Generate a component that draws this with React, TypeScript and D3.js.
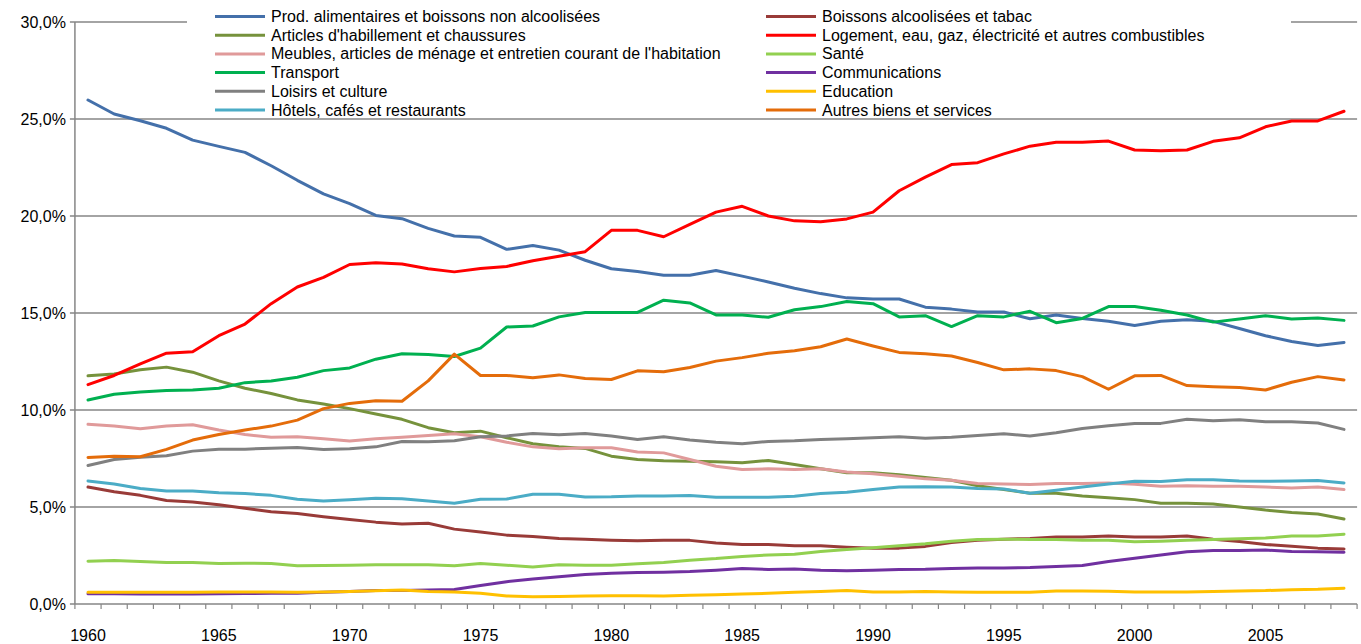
import React from 'react'
import * as d3 from 'd3'

// years on the category axis
const years = d3.range(1960, 2009)

const prodAlim = [25.98, 25.26, 24.91, 24.52, 23.91, 23.59, 23.28, 22.59, 21.84, 21.14, 20.64, 20.03, 19.86, 19.36, 18.97, 18.9, 18.28, 18.48, 18.24, 17.72, 17.28, 17.14, 16.95, 16.95, 17.19, 16.9, 16.6, 16.28, 16.0, 15.78, 15.72, 15.72, 15.3, 15.2, 15.05, 15.05, 14.7, 14.9, 14.72, 14.57, 14.36, 14.57, 14.65, 14.57, 14.2, 13.83, 13.53, 13.33, 13.48]
const boissons = [6.03, 5.79, 5.6, 5.34, 5.26, 5.12, 4.93, 4.76, 4.66, 4.5, 4.36, 4.22, 4.12, 4.16, 3.86, 3.71, 3.55, 3.48, 3.38, 3.34, 3.29, 3.26, 3.28, 3.28, 3.14, 3.07, 3.07, 3.0, 3.0, 2.93, 2.88, 2.88, 2.97, 3.17, 3.28, 3.34, 3.38, 3.45, 3.45, 3.5, 3.45, 3.45, 3.5, 3.34, 3.22, 3.07, 2.98, 2.88, 2.84]
const habillement = [11.76, 11.86, 12.07, 12.21, 11.95, 11.5, 11.12, 10.85, 10.52, 10.31, 10.07, 9.79, 9.52, 9.09, 8.83, 8.91, 8.57, 8.26, 8.1, 8.02, 7.62, 7.45, 7.38, 7.36, 7.33, 7.28, 7.4, 7.19, 6.97, 6.76, 6.76, 6.66, 6.52, 6.38, 6.1, 5.9, 5.71, 5.71, 5.57, 5.48, 5.38, 5.19, 5.19, 5.16, 5.0, 4.84, 4.72, 4.64, 4.38]
const logement = [11.31, 11.78, 12.38, 12.93, 13.0, 13.83, 14.43, 15.48, 16.34, 16.84, 17.5, 17.59, 17.53, 17.28, 17.12, 17.29, 17.4, 17.69, 17.93, 18.16, 19.26, 19.26, 18.93, 19.57, 20.2, 20.5, 20.0, 19.75, 19.7, 19.85, 20.2, 21.3, 22.0, 22.65, 22.75, 23.2, 23.6, 23.8, 23.8, 23.86, 23.4, 23.36, 23.4, 23.85, 24.03, 24.6, 24.9, 24.9, 25.4]
const meubles = [9.26, 9.17, 9.03, 9.17, 9.24, 8.97, 8.74, 8.59, 8.62, 8.52, 8.4, 8.52, 8.6, 8.69, 8.78, 8.62, 8.34, 8.1, 8.0, 8.05, 8.05, 7.84, 7.79, 7.45, 7.1, 6.93, 6.97, 6.93, 6.97, 6.81, 6.72, 6.59, 6.45, 6.38, 6.21, 6.19, 6.16, 6.21, 6.21, 6.24, 6.17, 6.07, 6.1, 6.07, 6.07, 6.03, 5.98, 6.03, 5.9]
const sante = [2.21, 2.24, 2.19, 2.14, 2.14, 2.09, 2.1, 2.09, 1.97, 1.98, 2.0, 2.02, 2.02, 2.02, 1.97, 2.09, 2.0, 1.91, 2.02, 2.0, 2.0, 2.07, 2.14, 2.26, 2.34, 2.45, 2.53, 2.57, 2.71, 2.81, 2.9, 3.0, 3.1, 3.24, 3.33, 3.34, 3.33, 3.33, 3.29, 3.29, 3.21, 3.24, 3.29, 3.33, 3.36, 3.4, 3.5, 3.5, 3.6]
const transport = [10.52, 10.81, 10.93, 11.0, 11.03, 11.12, 11.41, 11.5, 11.69, 12.03, 12.17, 12.62, 12.9, 12.86, 12.76, 13.19, 14.28, 14.33, 14.8, 15.03, 15.02, 15.03, 15.66, 15.52, 14.9, 14.9, 14.78, 15.17, 15.33, 15.59, 15.48, 14.8, 14.86, 14.3, 14.86, 14.8, 15.09, 14.5, 14.72, 15.33, 15.34, 15.14, 14.9, 14.53, 14.69, 14.86, 14.69, 14.74, 14.62]
const communications = [0.53, 0.53, 0.52, 0.51, 0.51, 0.53, 0.54, 0.55, 0.55, 0.6, 0.65, 0.7, 0.7, 0.72, 0.75, 0.95, 1.15, 1.29, 1.41, 1.52, 1.59, 1.62, 1.64, 1.67, 1.74, 1.83, 1.78, 1.81, 1.74, 1.71, 1.74, 1.78, 1.79, 1.83, 1.86, 1.86, 1.88, 1.93, 1.98, 2.19, 2.36, 2.52, 2.69, 2.76, 2.76, 2.78, 2.71, 2.69, 2.67]
const loisirs = [7.14, 7.45, 7.57, 7.64, 7.88, 7.98, 7.98, 8.03, 8.07, 7.97, 8.0, 8.1, 8.38, 8.36, 8.41, 8.62, 8.66, 8.79, 8.72, 8.79, 8.66, 8.48, 8.62, 8.45, 8.34, 8.26, 8.38, 8.41, 8.48, 8.52, 8.57, 8.62, 8.55, 8.59, 8.69, 8.78, 8.66, 8.83, 9.05, 9.19, 9.31, 9.31, 9.52, 9.45, 9.5, 9.4, 9.4, 9.33, 9.0]
const education = [0.6, 0.6, 0.6, 0.6, 0.6, 0.62, 0.62, 0.62, 0.6, 0.62, 0.65, 0.68, 0.72, 0.65, 0.62, 0.55, 0.41, 0.38, 0.39, 0.41, 0.43, 0.43, 0.41, 0.45, 0.48, 0.52, 0.55, 0.6, 0.65, 0.69, 0.62, 0.62, 0.64, 0.62, 0.6, 0.6, 0.6, 0.67, 0.67, 0.66, 0.62, 0.62, 0.62, 0.64, 0.67, 0.69, 0.74, 0.76, 0.81]
const hotels = [6.34, 6.19, 5.95, 5.83, 5.83, 5.74, 5.69, 5.6, 5.4, 5.31, 5.38, 5.45, 5.43, 5.31, 5.19, 5.4, 5.41, 5.66, 5.66, 5.52, 5.53, 5.57, 5.57, 5.59, 5.5, 5.5, 5.5, 5.55, 5.69, 5.76, 5.9, 6.03, 6.05, 6.03, 5.95, 5.93, 5.71, 5.86, 6.03, 6.19, 6.33, 6.31, 6.41, 6.41, 6.34, 6.33, 6.34, 6.36, 6.24]
const autres = [7.55, 7.62, 7.59, 7.97, 8.45, 8.74, 8.97, 9.17, 9.48, 10.07, 10.34, 10.48, 10.45, 11.5, 12.88, 11.78, 11.78, 11.66, 11.81, 11.62, 11.57, 12.02, 11.97, 12.19, 12.52, 12.7, 12.93, 13.05, 13.26, 13.66, 13.3, 12.97, 12.9, 12.78, 12.45, 12.07, 12.12, 12.03, 11.72, 11.07, 11.76, 11.78, 11.26, 11.2, 11.16, 11.03, 11.43, 11.72, 11.55]

const series = [
  {name: 'Prod. alimentaires et boissons non alcoolisées', color: '#4470AA', values: prodAlim},
  {name: 'Boissons alcoolisées et tabac', color: '#993B38', values: boissons},
  {name: "Articles d'habillement et chaussures", color: '#76923C', values: habillement},
  {name: 'Logement, eau, gaz, électricité et autres combustibles', color: '#FF0000', values: logement},
  {name: "Meubles, articles de ménage et entretien courant de l'habitation", color: '#E09A9A', values: meubles},
  {name: 'Santé', color: '#92D050', values: sante},
  {name: 'Transport', color: '#00B050', values: transport},
  {name: 'Communications', color: '#7030A0', values: communications},
  {name: 'Loisirs et culture', color: '#808080', values: loisirs},
  {name: 'Education', color: '#FFC000', values: education},
  {name: 'Hôtels, cafés et restaurants', color: '#4BACC6', values: hotels},
  {name: 'Autres biens et services', color: '#E46C0A', values: autres},
]

const yTicks = [0, 5, 10, 15, 20, 25, 30]
const xLabels = [1960, 1965, 1970, 1975, 1980, 1985, 1990, 1995, 2000, 2005]

const W = 1361, H = 644
const font = '"Liberation Sans", Arial, sans-serif'

export default function App() {
  const x = d3.scaleLinear().domain([1960, 2008]).range([88, 1344])
  const y = d3.scaleLinear().domain([0, 30]).range([604, 22])
  const left = x(1959.5), right = x(2008.5)

  const line = d3.line<number>()
    .x((d, i) => x(years[i]))
    .y(d => y(d))

  const fmt = (v: number) => v.toFixed(1).replace('.', ',') + '%'

  return (
    <svg width={W} height={H} style={{position: 'absolute', left: 0, top: 0, background: '#fff'}}
      fontFamily={font}>
      {yTicks.map(t => (
        <g key={t}>
          <line x1={left - 5} x2={right} y1={y(t)} y2={y(t)} stroke="#868686" strokeWidth={1.5} />
          <text x={left - 9} y={y(t) + 5.5} textAnchor="end" fontSize={16} fill="#000">{fmt(t)}</text>
        </g>
      ))}
      <line x1={left} x2={left} y1={y(30)} y2={y(0)} stroke="#868686" strokeWidth={1.5} />
      {d3.range(1959.5, 2009.5, 1).map(t => (
        <line key={t} x1={x(t)} x2={x(t)} y1={y(0)} y2={y(0) + 5} stroke="#868686" strokeWidth={1.2} />
      ))}
      {xLabels.map(t => (
        <text key={t} x={x(t)} y={641} textAnchor="middle" fontSize={16} fill="#000">{t}</text>
      ))}

      {/* legend box covers the gridlines behind it */}
      <rect x={187} y={6} width={1104} height={112} fill="#fff" />
      {series.map((s, i) => {
        const col = i % 2, row = Math.floor(i / 2)
        const lx = col === 0 ? 215 : 766
        const ly = 16.5 + row * 18.7
        return (
          <g key={s.name}>
            <line x1={lx} x2={lx + 50} y1={ly} y2={ly} stroke={s.color} strokeWidth={3} />
            <text x={lx + 56} y={ly + 5.5} fontSize={16} fill="#000">{s.name}</text>
          </g>
        )
      })}

      {series.map(s => (
        <path key={s.name} d={line(s.values) || ''} fill="none" stroke={s.color}
          strokeWidth={3} strokeLinejoin="round" strokeLinecap="round" />
      ))}
    </svg>
  )
}
